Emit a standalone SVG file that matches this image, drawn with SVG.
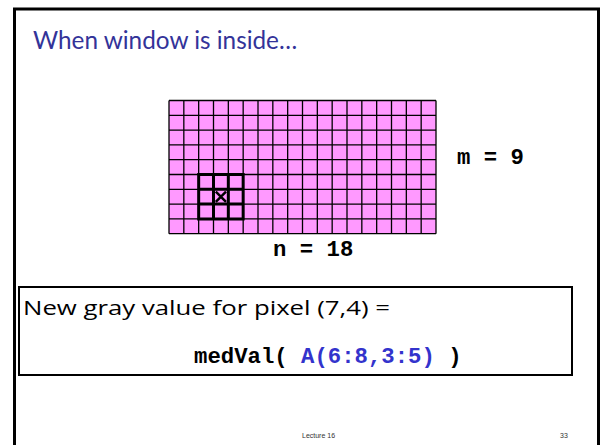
<svg xmlns="http://www.w3.org/2000/svg" width="602" height="445" viewBox="0 0 602 445">
<style>
.title{font-family:"Lato","Open Sans",sans-serif;font-size:24.3px;fill:#333399}
.mono{font-family:"Liberation Mono","Courier New",monospace;font-weight:bold;font-size:22.3px;fill:#000}
.comic{font-family:"Comic Sans MS","Open Sans",sans-serif;font-size:20px;fill:#000}
.foot{font-family:"Liberation Sans",Arial,sans-serif;font-size:7px;fill:#333}
.grid{stroke:#000;stroke-width:1.3;fill:none}
.win{stroke:#000;stroke-width:3;fill:none}
</style>
<rect x="0" y="0" width="602" height="445" fill="#fff"/>
<rect x="14.5" y="9" width="584" height="460" fill="none" stroke="#000" stroke-width="3"/>
<text class="title" x="33" y="49">When window is inside…</text>
<g id="grid">
<rect x="169" y="100.5" width="267" height="133.2" fill="#FF99FF"/>
<path class="grid" d="M169,100.5V233.7M183.83,100.5V233.7M198.67,100.5V233.7M213.5,100.5V233.7M228.33,100.5V233.7M243.17,100.5V233.7M258,100.5V233.7M272.83,100.5V233.7M287.67,100.5V233.7M302.5,100.5V233.7M317.33,100.5V233.7M332.17,100.5V233.7M347,100.5V233.7M361.83,100.5V233.7M376.67,100.5V233.7M391.5,100.5V233.7M406.33,100.5V233.7M421.17,100.5V233.7M436,100.5V233.7
M169,100.5H436M169,115.3H436M169,130.1H436M169,144.9H436M169,159.7H436M169,174.5H436M169,189.3H436M169,204.1H436M169,218.9H436M169,233.7H436"/>
</g>
<g id="window">
<path class="win" d="M198.67,174.5H243.17V218.9H198.67ZM213.5,174.5V218.9M228.33,174.5V218.9M198.67,189.3H243.17M198.67,204.1H243.17"/>
<path d="M215.8,191.6L226,201.8M226,191.6L215.8,201.8" stroke="#000" stroke-width="2.5"/>
</g>
<text class="mono" x="457" y="164">m = 9</text>
<text class="mono" x="273" y="256">n = 18</text>
<g id="formula">
<rect x="19" y="287" width="553" height="88" fill="none" stroke="#000" stroke-width="2"/>
<text class="comic" x="23" y="315" textLength="367" lengthAdjust="spacingAndGlyphs">New gray value for pixel (7,4) =</text>
<text class="mono" x="194" y="363">medVal( <tspan fill="#3333CC">A(6:8,3:5)</tspan> )</text>
</g>
<text class="foot" x="302" y="438">Lecture 16</text>
<text class="foot" x="560" y="438">33</text>
</svg>
